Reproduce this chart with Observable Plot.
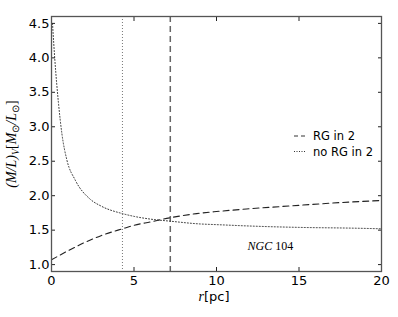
<!DOCTYPE html>
<html><head><meta charset="utf-8">
<script src="https://cdn.jsdelivr.net/npm/d3@7"></script>
<script src="https://cdn.jsdelivr.net/npm/@observablehq/plot@0.6"></script>
<style>body{margin:0;background:#fff} svg{display:block}</style>
</head><body><div id="chart"></div>
<script>
// Data
const rRG   = [0, 1, 2, 3, 4.3, 5, 6, 7.2, 8.8, 10, 12, 15, 17.5, 20];
const mlRG  = [1.07, 1.20, 1.32, 1.42, 1.52, 1.57, 1.62, 1.68, 1.74, 1.77, 1.81, 1.86, 1.90, 1.93];
const rNoRG  = [0.06, 0.2, 0.42, 0.63, 0.93, 1.43, 2.34, 3, 4.3, 5, 6, 7.2, 9, 10, 12, 15, 18, 20];
const mlNoRG = [4.5, 3.98, 3.35, 2.9, 2.52, 2.23, 1.95, 1.85, 1.74, 1.70, 1.66, 1.63, 1.59, 1.58, 1.56, 1.54, 1.53, 1.52];
const vDotted = [4.3];
const vDashed = [7.2];
const xTicks = [0, 5, 10, 15, 20];
const yTicks = [1.0, 1.5, 2.0, 2.5, 3.0, 3.5, 4.0, 4.5];
const seriesNames = ["RG in 2", "no RG in 2"];
const annotation = ["NGC", "104"];

const rg = rRG.map((r, i) => ({r, ml: mlRG[i]}));
const norg = rNoRG.map((r, i) => ({r, ml: mlNoRG[i]}));

const W = 398, H = 317;
const chart = Plot.plot({
  width: W, height: H,
  marginLeft: 51, marginRight: 17, marginTop: 16, marginBottom: 46,
  style: {fontFamily: "DejaVu Sans", fontSize: "13px", color: "#000", background: "#fff"},
  x: {domain: [0, 20]},
  y: {domain: [0.9, 4.6]},
  marks: [
    Plot.ruleX(vDotted, {stroke: "#777", strokeWidth: 1, strokeDasharray: "1,2"}),
    Plot.ruleX(vDashed, {stroke: "#666", strokeWidth: 1.5, strokeDasharray: "6,4"}),
    Plot.line(rg, {x: "r", y: "ml", curve: "monotone-x", stroke: "#222", strokeWidth: 1.1, strokeDasharray: "6,4"}),
    Plot.line(norg, {x: "r", y: "ml", curve: "monotone-x", stroke: "#333", strokeWidth: 1, strokeDasharray: "1,2"}),
    Plot.axisX({anchor: "bottom", ticks: xTicks, tickSize: -4, tickPadding: 8, label: null, tickFormat: d3.format("d"), stroke: "#222", fontSize: 13}),
    Plot.axisX({anchor: "top", ticks: xTicks, tickSize: -4, fill: "none", label: null, stroke: "#222"}),
    Plot.axisY({anchor: "left", ticks: yTicks, tickSize: -4, tickPadding: 6, label: null, tickFormat: d3.format(".1f"), stroke: "#222", fontSize: 13}),
    Plot.axisY({anchor: "right", ticks: yTicks, tickSize: -4, fill: "none", label: null, stroke: "#222"}),
    Plot.frame({stroke: "#555", strokeWidth: 1.3})
  ]
});
document.getElementById("chart").append(chart);

const svg = d3.select(chart);
const xs = chart.scale("x"), ys = chart.scale("y");

// y label
const yl = svg.append("text")
  .attr("transform", "translate(16,144) rotate(-90)")
  .attr("text-anchor", "middle")
  .attr("font-family", "Liberation Serif")
  .attr("font-size", 14)
  .attr("fill", "#000");
yl.append("tspan").attr("font-style", "italic").text("(M/L)");
yl.append("tspan").attr("font-style", "italic").attr("font-size", 10).attr("dy", 3).text("V");
yl.append("tspan").attr("dy", -3).text("[");
yl.append("tspan").attr("font-style", "italic").text("M");
yl.append("tspan").attr("font-size", 10).attr("dy", 3).text("⊙");
yl.append("tspan").attr("dy", -3).attr("font-style", "italic").text("/L");
yl.append("tspan").attr("font-size", 10).attr("dy", 3).text("⊙");
yl.append("tspan").attr("dy", -3).text("]");

// x label
const xl = svg.append("text")
  .attr("x", 214).attr("y", 301)
  .attr("text-anchor", "middle")
  .attr("font-size", 13)
  .attr("fill", "#000");
xl.append("tspan").attr("font-family", "Liberation Serif").attr("font-style", "italic").attr("font-size", 14).text("r");
xl.append("tspan").attr("font-family", "DejaVu Sans").text("[pc]");

// annotation
const an = svg.append("text")
  .attr("x", xs.apply(13.3)).attr("y", ys.apply(1.21))
  .attr("text-anchor", "middle")
  .attr("font-family", "Liberation Serif")
  .attr("font-size", 12)
  .attr("fill", "#000");
an.append("tspan").attr("font-style", "italic").text(annotation[0]);
an.append("tspan").text(" " + annotation[1]);

// legend
const lg = svg.append("g").attr("font-family", "DejaVu Sans").attr("font-size", 11.5).attr("text-anchor", "start");
const dashes = ["4,3", "1,1.5"];
seriesNames.forEach((name, i) => {
  const y = 136 + i * 15.5;
  lg.append("line").attr("x1", 294).attr("x2", 305).attr("y1", y).attr("y2", y)
    .attr("stroke", "#333").attr("stroke-width", 1).attr("stroke-dasharray", dashes[i]);
  lg.append("text").attr("x", 313).attr("y", y + 4).attr("fill", "#000").text(name);
});
</script>
</body></html>
